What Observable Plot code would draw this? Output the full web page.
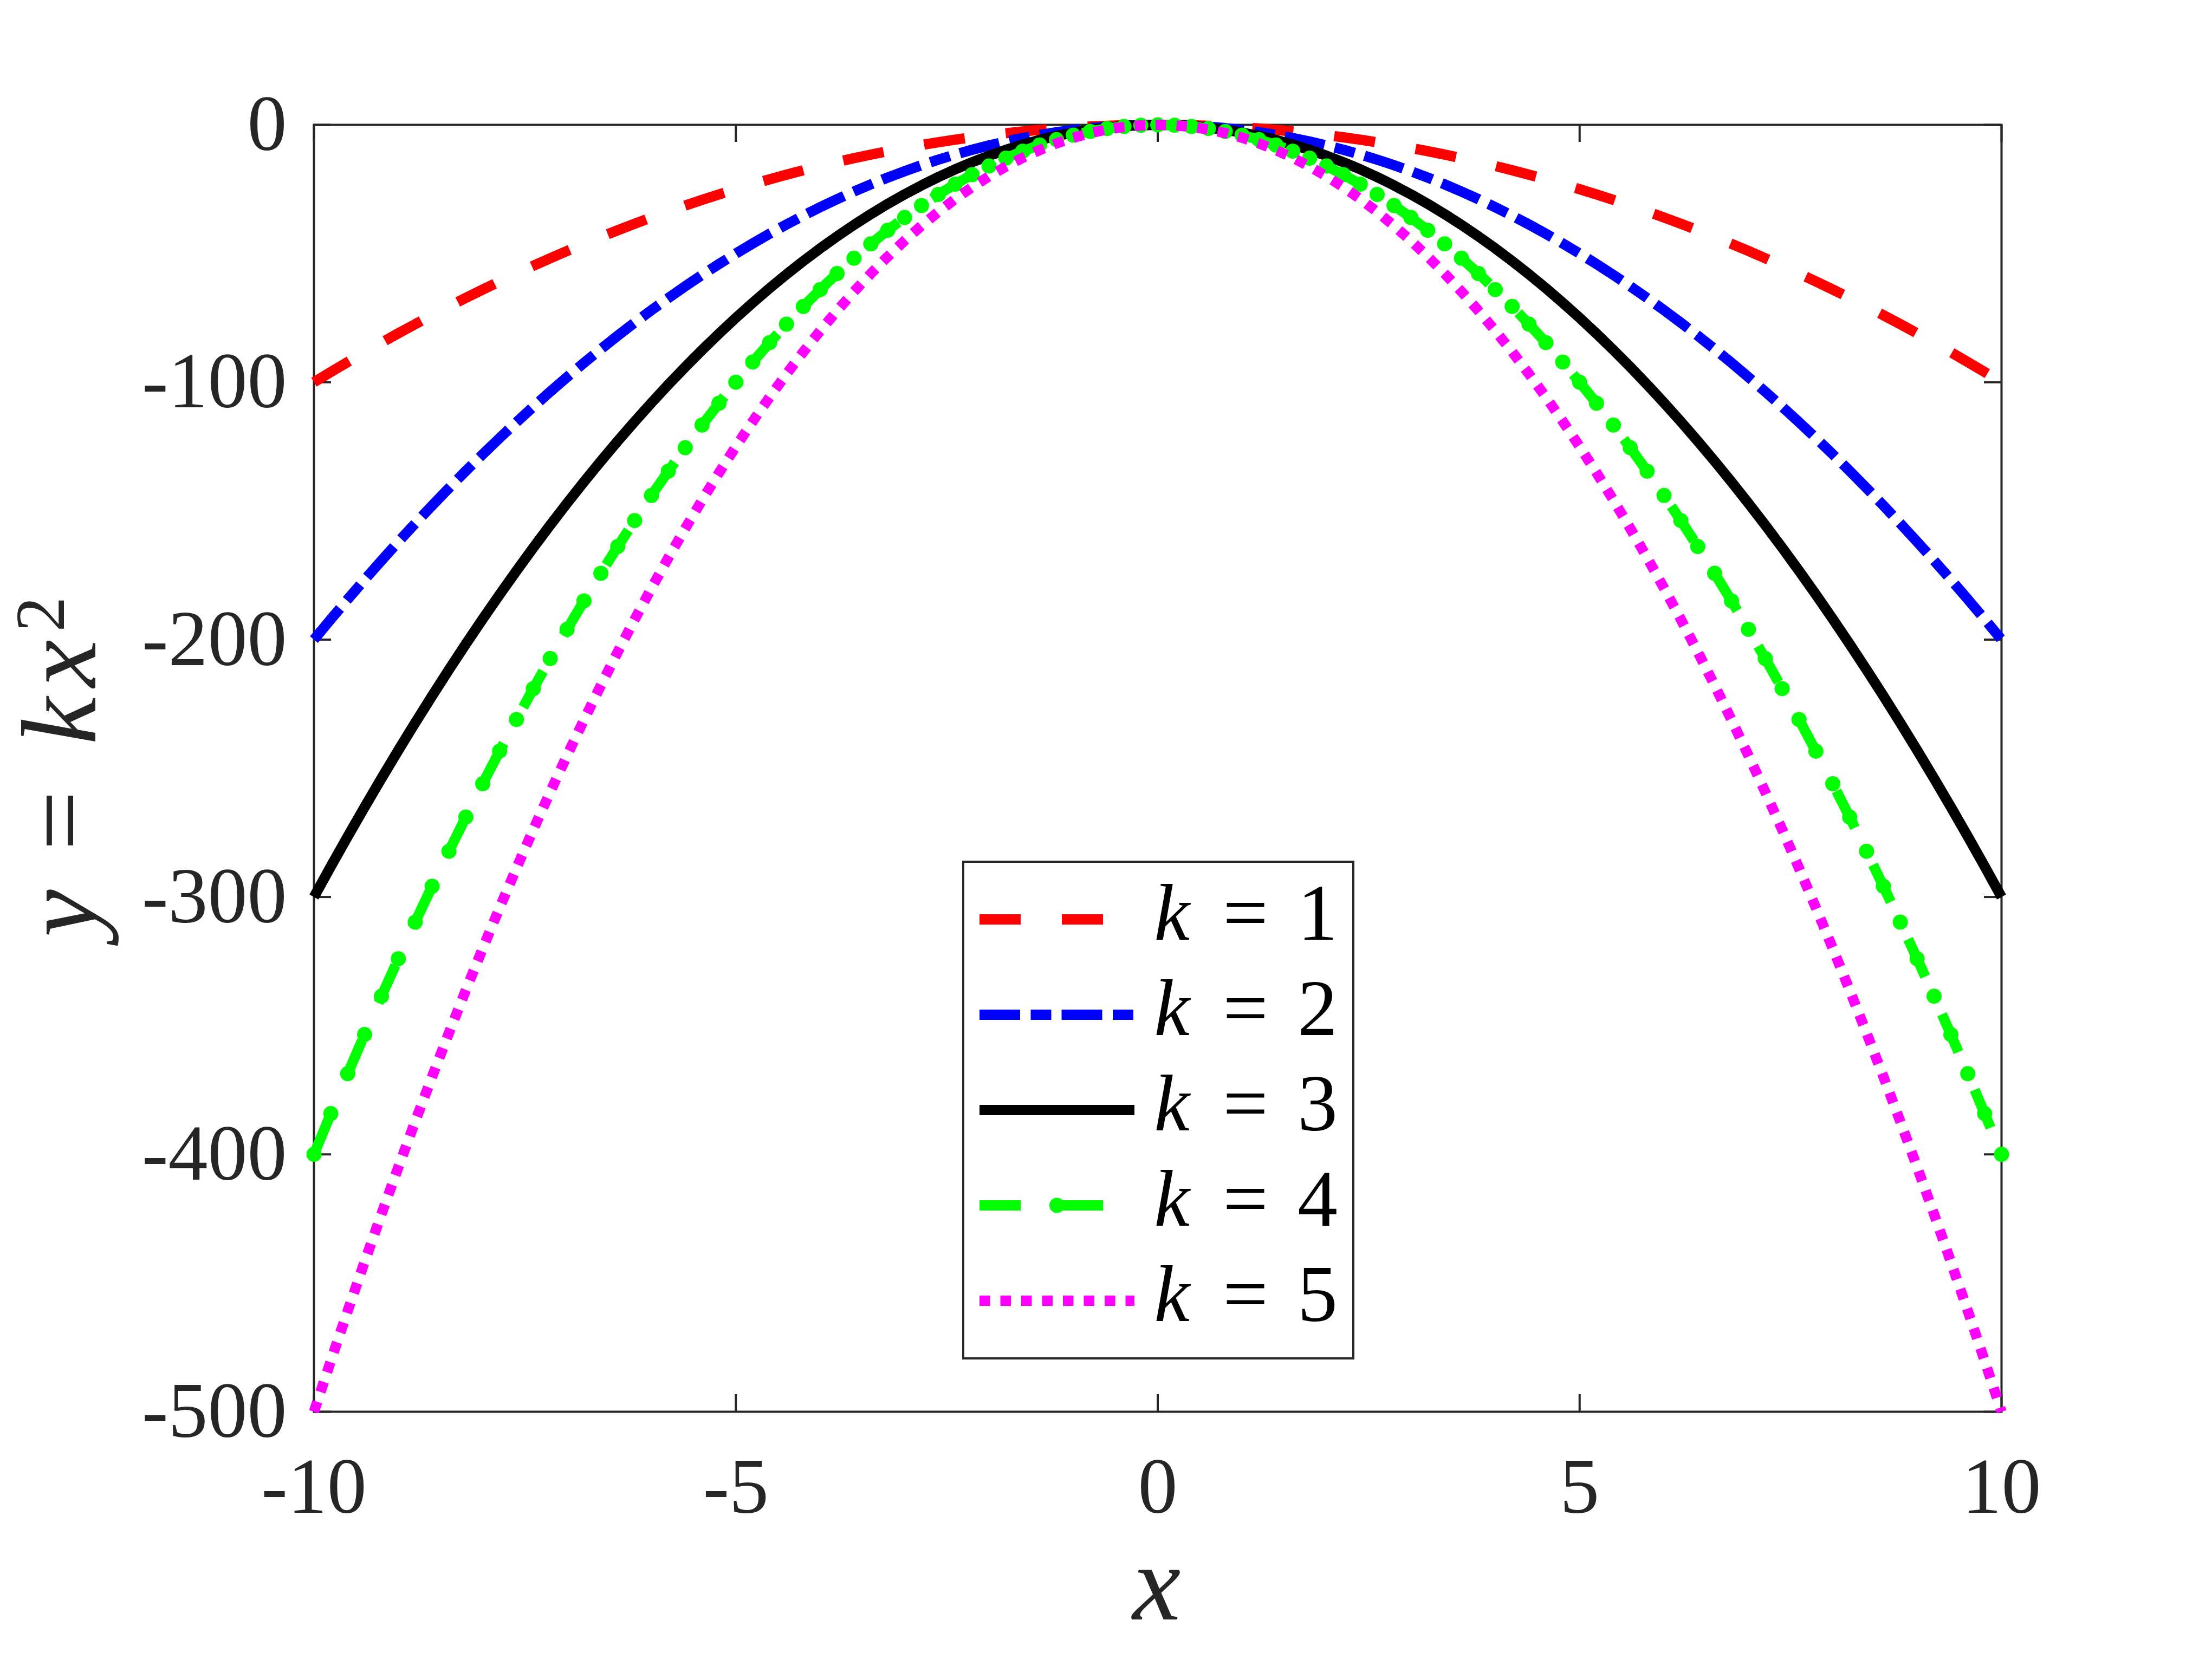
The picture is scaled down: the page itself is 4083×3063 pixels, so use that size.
<!DOCTYPE html>
<html><head><meta charset="utf-8">
<script src="https://cdn.jsdelivr.net/npm/d3@7"></script>
<script src="https://cdn.jsdelivr.net/npm/@observablehq/plot@0.6"></script>
<style>html,body{margin:0;padding:0;background:#fff;} svg{display:block} svg text{font-family:"Liberation Serif","DejaVu Serif","Noto Serif","Times New Roman",Times,serif !important;}</style>
</head><body><div id="chart"></div>
<script>
// ---- data ----
const xs = [-10,-9.8,-9.6,-9.4,-9.2,-9,-8.8,-8.6,-8.4,-8.2,-8,-7.8,-7.6,-7.4,-7.2,-7,-6.8,-6.6,-6.4,-6.2,-6,-5.8,-5.6,-5.4,-5.2,-5,-4.8,-4.6,-4.4,-4.2,-4,-3.8,-3.6,-3.4,-3.2,-3,-2.8,-2.6,-2.4,-2.2,-2,-1.8,-1.6,-1.4,-1.2,-1,-0.8,-0.6,-0.4,-0.2,0,0.2,0.4,0.6,0.8,1,1.2,1.4,1.6,1.8,2,2.2,2.4,2.6,2.8,3,3.2,3.4,3.6,3.8,4,4.2,4.4,4.6,4.8,5,5.2,5.4,5.6,5.8,6,6.2,6.4,6.6,6.8,7,7.2,7.4,7.6,7.8,8,8.2,8.4,8.6,8.8,9,9.2,9.4,9.6,9.8,10];

const yK1 = [-100,-96.04,-92.16,-88.36,-84.64,-81,-77.44,-73.96,-70.56,-67.24,-64,-60.84,-57.76,-54.76,-51.84,-49,-46.24,-43.56,-40.96,-38.44,-36,-33.64,-31.36,-29.16,-27.04,-25,-23.04,-21.16,-19.36,-17.64,-16,-14.44,-12.96,-11.56,-10.24,-9,-7.84,-6.76,-5.76,-4.84,-4,-3.24,-2.56,-1.96,-1.44,-1,-0.64,-0.36,-0.16,-0.04,0,-0.04,-0.16,-0.36,-0.64,-1,-1.44,-1.96,-2.56,-3.24,-4,-4.84,-5.76,-6.76,-7.84,-9,-10.24,-11.56,-12.96,-14.44,-16,-17.64,-19.36,-21.16,-23.04,-25,-27.04,-29.16,-31.36,-33.64,-36,-38.44,-40.96,-43.56,-46.24,-49,-51.84,-54.76,-57.76,-60.84,-64,-67.24,-70.56,-73.96,-77.44,-81,-84.64,-88.36,-92.16,-96.04,-100];

const yK2 = [-200,-192.08,-184.32,-176.72,-169.28,-162,-154.88,-147.92,-141.12,-134.48,-128,-121.68,-115.52,-109.52,-103.68,-98,-92.48,-87.12,-81.92,-76.88,-72,-67.28,-62.72,-58.32,-54.08,-50,-46.08,-42.32,-38.72,-35.28,-32,-28.88,-25.92,-23.12,-20.48,-18,-15.68,-13.52,-11.52,-9.68,-8,-6.48,-5.12,-3.92,-2.88,-2,-1.28,-0.72,-0.32,-0.08,0,-0.08,-0.32,-0.72,-1.28,-2,-2.88,-3.92,-5.12,-6.48,-8,-9.68,-11.52,-13.52,-15.68,-18,-20.48,-23.12,-25.92,-28.88,-32,-35.28,-38.72,-42.32,-46.08,-50,-54.08,-58.32,-62.72,-67.28,-72,-76.88,-81.92,-87.12,-92.48,-98,-103.68,-109.52,-115.52,-121.68,-128,-134.48,-141.12,-147.92,-154.88,-162,-169.28,-176.72,-184.32,-192.08,-200];

const yK3 = [-300,-288.12,-276.48,-265.08,-253.92,-243,-232.32,-221.88,-211.68,-201.72,-192,-182.52,-173.28,-164.28,-155.52,-147,-138.72,-130.68,-122.88,-115.32,-108,-100.92,-94.08,-87.48,-81.12,-75,-69.12,-63.48,-58.08,-52.92,-48,-43.32,-38.88,-34.68,-30.72,-27,-23.52,-20.28,-17.28,-14.52,-12,-9.72,-7.68,-5.88,-4.32,-3,-1.92,-1.08,-0.48,-0.12,0,-0.12,-0.48,-1.08,-1.92,-3,-4.32,-5.88,-7.68,-9.72,-12,-14.52,-17.28,-20.28,-23.52,-27,-30.72,-34.68,-38.88,-43.32,-48,-52.92,-58.08,-63.48,-69.12,-75,-81.12,-87.48,-94.08,-100.92,-108,-115.32,-122.88,-130.68,-138.72,-147,-155.52,-164.28,-173.28,-182.52,-192,-201.72,-211.68,-221.88,-232.32,-243,-253.92,-265.08,-276.48,-288.12,-300];

const yK4 = [-400,-384.16,-368.64,-353.44,-338.56,-324,-309.76,-295.84,-282.24,-268.96,-256,-243.36,-231.04,-219.04,-207.36,-196,-184.96,-174.24,-163.84,-153.76,-144,-134.56,-125.44,-116.64,-108.16,-100,-92.16,-84.64,-77.44,-70.56,-64,-57.76,-51.84,-46.24,-40.96,-36,-31.36,-27.04,-23.04,-19.36,-16,-12.96,-10.24,-7.84,-5.76,-4,-2.56,-1.44,-0.64,-0.16,0,-0.16,-0.64,-1.44,-2.56,-4,-5.76,-7.84,-10.24,-12.96,-16,-19.36,-23.04,-27.04,-31.36,-36,-40.96,-46.24,-51.84,-57.76,-64,-70.56,-77.44,-84.64,-92.16,-100,-108.16,-116.64,-125.44,-134.56,-144,-153.76,-163.84,-174.24,-184.96,-196,-207.36,-219.04,-231.04,-243.36,-256,-268.96,-282.24,-295.84,-309.76,-324,-338.56,-353.44,-368.64,-384.16,-400];

const yK5 = [-500,-480.2,-460.8,-441.8,-423.2,-405,-387.2,-369.8,-352.8,-336.2,-320,-304.2,-288.8,-273.8,-259.2,-245,-231.2,-217.8,-204.8,-192.2,-180,-168.2,-156.8,-145.8,-135.2,-125,-115.2,-105.8,-96.8,-88.2,-80,-72.2,-64.8,-57.8,-51.2,-45,-39.2,-33.8,-28.8,-24.2,-20,-16.2,-12.8,-9.8,-7.2,-5,-3.2,-1.8,-0.8,-0.2,0,-0.2,-0.8,-1.8,-3.2,-5,-7.2,-9.8,-12.8,-16.2,-20,-24.2,-28.8,-33.8,-39.2,-45,-51.2,-57.8,-64.8,-72.2,-80,-88.2,-96.8,-105.8,-115.2,-125,-135.2,-145.8,-156.8,-168.2,-180,-192.2,-204.8,-217.8,-231.2,-245,-259.2,-273.8,-288.8,-304.2,-320,-336.2,-352.8,-369.8,-387.2,-405,-423.2,-441.8,-460.8,-480.2,-500];

const kValues = ["1", "2", "3", "4", "5"];
const xTicks = [-10, -5, 0, 5, 10];
const yTicks = [0, -100, -200, -300, -400, -500];

// ---- layout / style ----
const W = 4083, H = 3063;
const mL = 579, mR = 389, mT = 230, mB = 457;
const fW = W - mL - mR, fH = H - mT - mB;
const axisColor = "#262626";
const tickLen = 32;
const lineW = 19;
const serif = "'Liberation Serif','DejaVu Serif','Noto Serif','Times New Roman',Times,serif";

const series = [
  {ys: yK1, stroke: "#FF0000", dash: "76,76", marker: false},
  {ys: yK2, stroke: "#0000FF", dash: "75,19.5,38,19", marker: false},
  {ys: yK3, stroke: "#000000", dash: null, marker: false},
  {ys: yK4, stroke: "#00FF00", dash: "76,76", marker: true},
  {ys: yK5, stroke: "#FF00FF", dash: "19.5,19", marker: false}
];
const toRows = ys => xs.map((x, i) => ({x, y: ys[i]}));

const marks = [
  Plot.frame({stroke: axisColor, strokeWidth: 4}),
  Plot.tickX(xTicks, {x: d => d, insetTop: fH - tickLen, stroke: axisColor, strokeWidth: 4}),
  Plot.tickX(xTicks, {x: d => d, insetBottom: fH - tickLen, stroke: axisColor, strokeWidth: 4}),
  Plot.tickY(yTicks, {y: d => d, insetRight: fW - tickLen, stroke: axisColor, strokeWidth: 4}),
  Plot.tickY(yTicks, {y: d => d, insetLeft: fW - tickLen, stroke: axisColor, strokeWidth: 4}),
  Plot.axisX({ticks: xTicks, tickSize: 0, tickPadding: 83, tickFormat: d => String(d), fontSize: 146, label: null}),
  Plot.axisY({ticks: yTicks, tickSize: 0, tickPadding: 50, tickFormat: d => String(d), fontSize: 146, label: null})
];
for (const s of series) {
  const opts = {x: "x", y: "y", stroke: s.stroke, strokeWidth: lineW, strokeLinecap: "butt", strokeLinejoin: "round"};
  if (s.dash) opts.strokeDasharray = s.dash;
  marks.push(Plot.line(toRows(s.ys), opts));
  if (s.marker) marks.push(Plot.dot(toRows(s.ys), {x: "x", y: "y", r: 14, fill: s.stroke, stroke: "none"}));
}

const svg = Plot.plot({
  width: W, height: H,
  marginLeft: mL, marginRight: mR, marginTop: mT, marginBottom: mB,
  x: {domain: [-10, 10]},
  y: {domain: [-500, 0]},
  style: {fontFamily: serif, fontSize: "146px", color: axisColor, background: "white", overflow: "visible"},
  marks
});
document.getElementById("chart").appendChild(svg);

// ---- axis labels (math-style) ----
const g = d3.select(svg).append("g").attr("fill", axisColor).style("font-family", serif);

g.append("text").attr("x", 2135).attr("y", 2990).attr("text-anchor", "middle")
  .style("font-style", "italic").style("font-size", "200px").text("x");

const yLabelParts = [
  {t: "y", italic: true, cy: 1686, bx: 176, size: 197},
  {t: "=", italic: false, cy: 1515, bx: 176, size: 197},
  {t: "k", italic: true, cy: 1331, bx: 176, size: 197},
  {t: "x", italic: true, cy: 1225, bx: 176, size: 197},
  {t: "2", italic: false, cy: 1134, bx: 118, size: 130}
];
for (const p of yLabelParts) {
  g.append("text").attr("x", p.bx).attr("y", p.cy)
    .attr("transform", `rotate(-90,${p.bx},${p.cy})`)
    .attr("text-anchor", "middle")
    .style("font-style", p.italic ? "italic" : "normal")
    .style("font-size", p.size + "px").text(p.t);
}

// ---- legend ----
const lg = d3.select(svg).append("g");
lg.append("rect").attr("x", 1778).attr("y", 1591).attr("width", 720).attr("height", 917)
  .attr("fill", "white").attr("stroke", axisColor).attr("stroke-width", 4);
series.forEach((s, i) => {
  const cy = 1697.5 + 176 * i;
  const ln = lg.append("line").attr("x1", 1808).attr("x2", 2094).attr("y1", cy).attr("y2", cy)
    .attr("stroke", s.stroke).attr("stroke-width", lineW);
  if (s.dash) ln.attr("stroke-dasharray", s.dash);
  if (s.marker) lg.append("circle").attr("cx", 1951).attr("cy", cy).attr("r", 14).attr("fill", s.stroke);
  const by = cy + 37;
  const tg = lg.append("g").attr("fill", "#000").style("font-family", serif).style("font-size", "148px");
  tg.append("text").attr("x", 2163).attr("y", by).attr("text-anchor", "middle").style("font-style", "italic").text("k");
  tg.append("text").attr("x", 2299).attr("y", by).attr("text-anchor", "middle").text("=");
  tg.append("text").attr("x", 2432).attr("y", by).attr("text-anchor", "middle").text(kValues[i]);
});
</script>
</body></html>
